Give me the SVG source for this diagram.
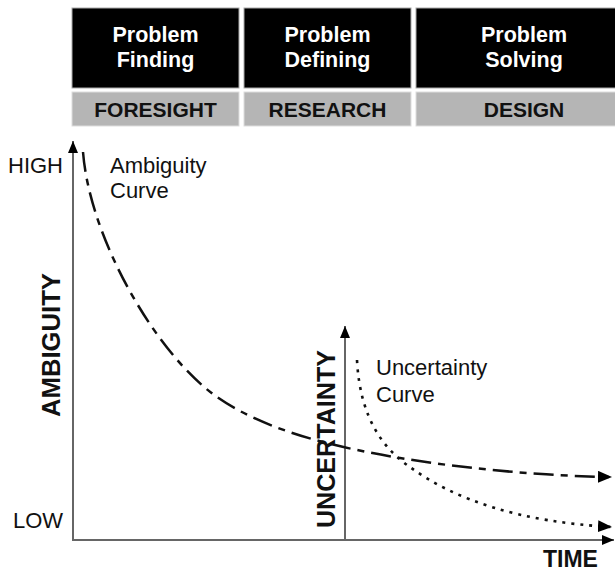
<svg xmlns="http://www.w3.org/2000/svg" width="615" height="573" viewBox="0 0 615 573">
<style>
.hdr{fill:#000;stroke:#aaa;stroke-width:1}
.sub{fill:#b5b5b5;stroke:#ddd;stroke-width:1}
.ht{font-family:"Liberation Sans",Arial,sans-serif;font-weight:bold;font-size:21.5px;fill:#fff;text-anchor:middle}
.st{font-family:"Liberation Sans",Arial,sans-serif;font-weight:bold;font-size:21px;fill:#111;text-anchor:middle}
.lbl{font-family:"Liberation Sans",Arial,sans-serif;font-size:22px;fill:#111}
.ax{font-family:"Liberation Sans",Arial,sans-serif;font-weight:bold;fill:#111}
.axis{fill:none;stroke:#666;stroke-width:2}
.amb{fill:none;stroke:#111;stroke-width:2.5;stroke-dasharray:20 7 7 7}
.unc{fill:none;stroke:#111;stroke-width:2.6;stroke-dasharray:3 6}
.head{fill:#000;stroke:none}
</style>
<defs>
<marker id="ah" markerUnits="userSpaceOnUse" markerWidth="16" markerHeight="14" refX="14" refY="6" orient="auto">
<path class="head" d="M0,0 L14,6 L0,12 z"/>
</marker>
<marker id="axh" markerUnits="userSpaceOnUse" markerWidth="14" markerHeight="12" refX="12" refY="5" orient="auto">
<path class="head" d="M0,0 L12,5 L0,10 z"/>
</marker>
</defs>
<g id="phase-finding">
<rect class="hdr" x="72" y="8" width="167" height="80"/>
<text class="ht" x="155.5" y="42">Problem</text>
<text class="ht" x="155.5" y="67">Finding</text>
</g>
<g id="phase-defining">
<rect class="hdr" x="244" y="8" width="167" height="80"/>
<text class="ht" x="327.5" y="42">Problem</text>
<text class="ht" x="327.5" y="67">Defining</text>
</g>
<g id="phase-solving">
<rect class="hdr" x="416" y="8" width="205" height="80"/>
<text class="ht" x="524" y="42">Problem</text>
<text class="ht" x="524" y="67">Solving</text>
</g>
<g id="foresight">
<rect class="sub" x="72" y="92" width="167" height="34"/>
<text class="st" x="155.5" y="117">FORESIGHT</text>
</g>
<g id="research">
<rect class="sub" x="244" y="92" width="167" height="34"/>
<text class="st" x="327.5" y="117">RESEARCH</text>
</g>
<g id="design">
<rect class="sub" x="416" y="92" width="205" height="34"/>
<text class="st" x="524" y="117">DESIGN</text>
</g>
<g id="connectors">
<path class="axis" d="M73,540 L73,141" marker-end="url(#axh)"/>
<path class="axis" d="M72,540 L614,540" marker-end="url(#axh)"/>
<path class="axis" d="M345,540 L345,326" marker-end="url(#axh)"/>
<path class="amb" d="M83,152 C90,240 157,355 217,397 C267,432 340,448 400,458 C460,468 540,476 612,477" marker-end="url(#ah)"/>
<path class="unc" d="M357,360 C360,420 385,450 410,467 C455,500 520,522 612,527" marker-end="url(#ah)"/>
</g>
<g id="labels">
<text class="lbl" x="8" y="173">HIGH</text>
<text class="lbl" x="13" y="528">LOW</text>
<text class="lbl" x="110" y="173">Ambiguity</text>
<text class="lbl" x="110" y="198">Curve</text>
<text class="lbl" x="376" y="375">Uncertainty</text>
<text class="lbl" x="376" y="402">Curve</text>
<text class="ax" font-size="26" transform="translate(60,417) rotate(-90)" textLength="144" lengthAdjust="spacingAndGlyphs">AMBIGUITY</text>
<text class="ax" font-size="25" transform="translate(335,528) rotate(-90)" textLength="178" lengthAdjust="spacingAndGlyphs">UNCERTAINTY</text>
<text class="ax" font-size="23" x="543" y="567">TIME</text>
</g>
</svg>
